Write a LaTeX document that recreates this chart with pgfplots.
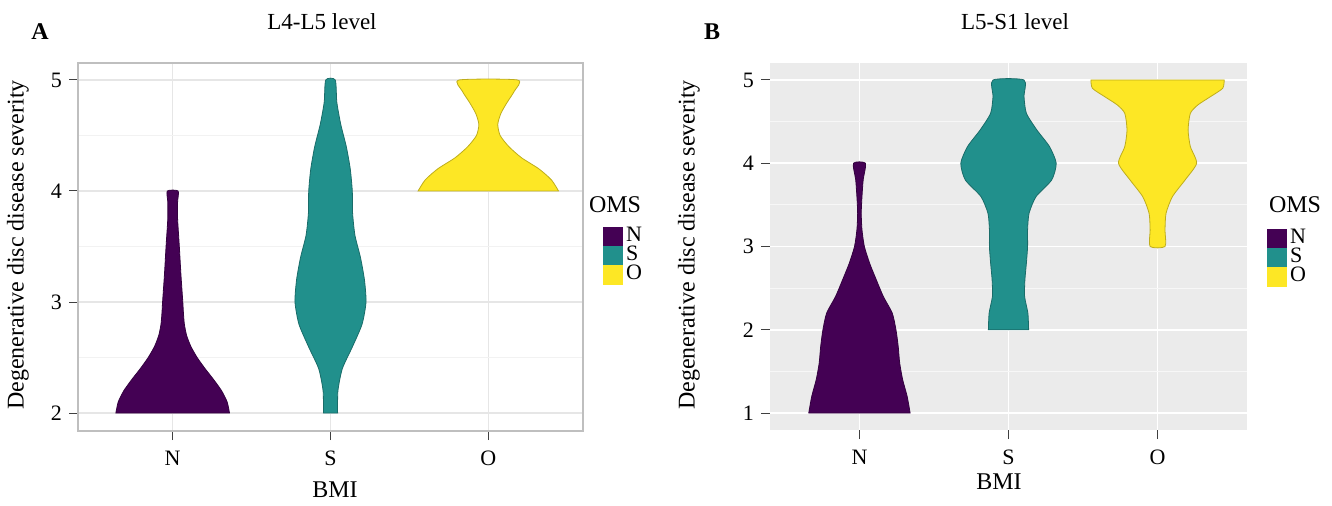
\documentclass[border=0pt]{standalone}
\usepackage{fontspec}
\setmainfont{Liberation Serif}
\usepackage{pgfplots}
\usepackage{pgfplotstable}
\pgfplotsset{compat=1.18}

\definecolor{vN}{HTML}{440154}
\definecolor{vS}{HTML}{21908C}
\definecolor{vO}{HTML}{FDE725}
\definecolor{gridA}{HTML}{E6E6E6}
\definecolor{gridAm}{HTML}{F2F2F2}
\definecolor{bgB}{HTML}{EBEBEB}

% Panel A profiles (y, half-width)
\pgfplotstableread{
y w
2.0 0.36
2.1 0.345
2.2 0.31
2.3 0.26
2.4 0.205
2.5 0.155
2.6 0.115
2.7 0.088
2.8 0.074
2.9 0.068
3.0 0.064
3.25 0.052
3.5 0.042
3.75 0.031
3.9 0.031
4.0 0.034
}\NA
\pgfplotstableread{
y w
2.0 0.045
2.2 0.047
2.4 0.075
2.6 0.14
2.8 0.2
3.0 0.225
3.2 0.215
3.4 0.19
3.6 0.155
3.8 0.14
4.0 0.138
4.2 0.125
4.4 0.1
4.6 0.065
4.8 0.04
5.0 0.03
}\SA
\pgfplotstableread{
y w
4.0 0.445
4.1 0.4
4.2 0.32
4.3 0.21
4.4 0.13
4.5 0.075
4.6 0.06
4.7 0.08
4.8 0.12
4.9 0.165
5.0 0.185
}\OA
% Panel B profiles
\pgfplotstableread{
y w
1.0 0.34
1.2 0.32
1.4 0.29
1.6 0.27
1.8 0.26
2.0 0.245
2.2 0.22
2.4 0.16
2.6 0.113
2.8 0.068
3.0 0.033
3.2 0.017
3.4 0.012
3.6 0.017
3.8 0.025
4.0 0.04
}\NB
\pgfplotstableread{
y w
2.0 0.135
2.2 0.13
2.4 0.108
2.6 0.11
2.8 0.12
3.0 0.128
3.2 0.128
3.4 0.138
3.6 0.185
3.8 0.29
4.0 0.32
4.2 0.275
4.4 0.19
4.6 0.12
4.8 0.104
5.0 0.104
}\SB
\pgfplotstableread{
y w
3.0 0.05
3.2 0.05
3.4 0.057
3.6 0.1
3.8 0.185
4.0 0.262
4.2 0.22
4.4 0.205
4.6 0.22
4.7 0.27
4.8 0.355
4.9 0.437
5.0 0.447
}\OB

% Outline tables
% \X u : right side ascending, then left side descending (closing edge at the bottom)
% \X v : left side descending, then right side ascending (closing edge at the top)
\newcommand{\mkviolin}[3]{%
  \pgfplotstablesort[sort key=y, sort cmp={float <}]{#2}{#1}%
  \pgfplotstablesort[sort key=y, sort cmp={float >}]{\tmpdesc}{#1}%
  \pgfplotstablevertcat{#2}{\tmpdesc}%
  \pgfplotstablesort[sort key=y, sort cmp={float >}]{#3}{#1}%
  \pgfplotstablevertcat{#3}{#1}%
}
\mkviolin{\NA}{\NAu}{\NAv}
\mkviolin{\SA}{\SAu}{\SAv}
\mkviolin{\OA}{\OAu}{\OAv}
\mkviolin{\NB}{\NBu}{\NBv}
\mkviolin{\SB}{\SBu}{\SBv}
\mkviolin{\OB}{\OBu}{\OBv}

% #1 source table, #2 outline table, #3 first-half sign, #4 centre, #5 colour
\newcommand{\violin}[5]{%
  \pgfplotstablegetrowsof{#1}\edef\nr{\pgfplotsretval}%
  \addplot[fill=#5, draw=#5!75!black, line width=0.4pt, smooth, tension=0.4, forget plot]
    table[x expr={#4+ifthenelse(\coordindex<\nr,#3,-(#3))*\thisrow{w}}, y=y]{#2} -- cycle;
}

\pgfplotsset{
  vstyle/.style={
    scale only axis,
    anchor=south west,
    xmin=0.4, xmax=3.6,
    xtick={1,2,3}, xticklabels={N,S,O},
    tick pos=left,
    tick align=outside,
    major tick length=4.5pt,
    minor tick length=0pt,
    tick style={color=black!75, line width=0.5pt},
    ticklabel style={font=\fontsize{11}{12}\selectfont},
    xticklabel style={yshift=-2pt},
    /pgf/number format/assume math mode=true,
    grid=both,
    legend cell align=left,
    legend style={draw=none, fill=none, inner sep=0pt, outer sep=0pt,
      row sep=0pt, column sep=1.5pt,
      font=\fontsize{11}{12}\selectfont,
      nodes={inner sep=0pt, text height=7.2pt, text depth=2.4pt}},
    legend image code/.code={\fill[##1, draw=none] (0pt,-4.8pt) rectangle (10pt,4.8pt);},
  }
}

\begin{document}
\begin{tikzpicture}
\path[use as bounding box] (0,0) rectangle (666pt,252.5pt);

% ---------- Panel A ----------
\begin{axis}[vstyle,
  at={(39pt,37pt)}, width=252.5pt, height=184pt,
  ymin=1.838, ymax=5.153,
  ytick={2,3,4,5}, minor ytick={2.5,3.5,4.5},
  major grid style={color=gridA, line width=0.6pt},
  minor grid style={color=gridAm, line width=0.4pt},
  axis line style={draw=black!25, line width=1pt},
  legend style={at={(1.0396,0.5543)}, anchor=north west},
]
\violin{\NA}{\NAu}{1}{1}{vN}
\violin{\SA}{\SAu}{1}{2}{vS}
\violin{\OA}{\OAu}{1}{3}{vO}
\addlegendimage{fill=vN}\addlegendentry{N}
\addlegendimage{fill=vS}\addlegendentry{S}
\addlegendimage{fill=vO}\addlegendentry{O}
\end{axis}

% ---------- Panel B ----------
\begin{axis}[vstyle,
  at={(385pt,37.5pt)}, width=238.5pt, height=183.5pt,
  ymin=0.796, ymax=5.204,
  ytick={1,2,3,4,5}, minor ytick={1.5,2.5,3.5,4.5},
  axis background/.style={fill=bgB},
  major grid style={color=white, line width=0.8pt},
  minor grid style={color=white!60!bgB, line width=0.4pt},
  axis line style={draw=none},
  legend style={at={(1.042,0.5477)}, anchor=north west},
]
\violin{\NB}{\NBu}{1}{1}{vN}
\violin{\SB}{\SBu}{1}{2}{vS}
\violin{\OB}{\OBv}{-1}{3}{vO}
\addlegendimage{fill=vN}\addlegendentry{N}
\addlegendimage{fill=vS}\addlegendentry{S}
\addlegendimage{fill=vO}\addlegendentry{O}
\end{axis}

% ---------- Texts ----------
\node[font=\fontsize{12}{14}\selectfont\bfseries] at (20pt,236.5pt) {A};
\node[font=\fontsize{12}{14}\selectfont\bfseries] at (356pt,236.5pt) {B};
\node[font=\fontsize{11.5}{13}\selectfont] at (161pt,241.5pt) {L4-L5 level};
\node[font=\fontsize{11.5}{13}\selectfont] at (507.5pt,241.5pt) {L5-S1 level};
\node[font=\fontsize{12}{14}\selectfont, rotate=90] at (9pt,130pt) {Degenerative disc disease severity};
\node[font=\fontsize{12}{14}\selectfont, rotate=90] at (344.5pt,130pt) {Degenerative disc disease severity};
\node[font=\fontsize{12}{14}\selectfont] at (167.5pt,7.5pt) {BMI};
\node[font=\fontsize{12}{14}\selectfont] at (499.5pt,11.5pt) {BMI};
\node[font=\fontsize{12}{13}\selectfont] at (307.5pt,150pt) {OMS};
\node[font=\fontsize{12}{13}\selectfont] at (647.5pt,150pt) {OMS};
\end{tikzpicture}
\end{document}
